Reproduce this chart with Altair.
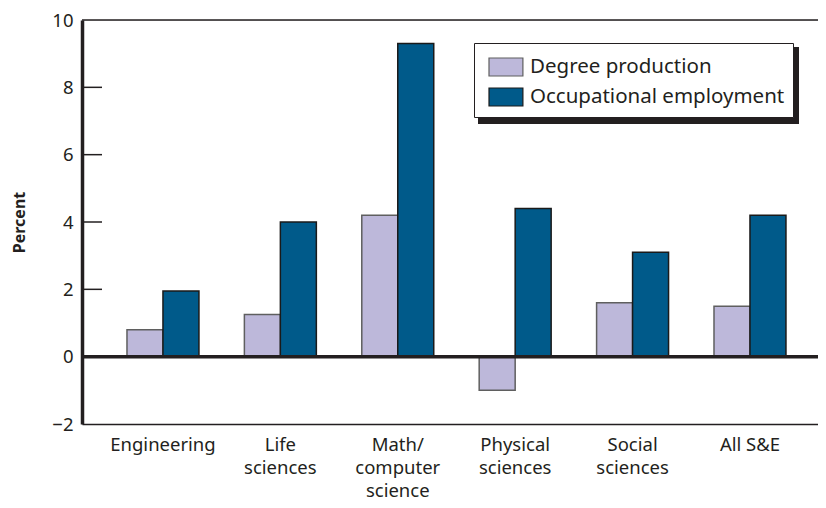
import altair as alt
import pandas as pd

categories = ["Engineering", "Life\nsciences", "Math/\ncomputer\nscience",
              "Physical\nsciences", "Social\nsciences", "All S&E"]
series = ["Degree production", "Occupational employment"]
degree_production = [0.8, 1.25, 4.2, -1.0, 1.6, 1.5]
occupational_employment = [1.95, 4.0, 9.3, 4.4, 3.1, 4.2]
inner_ticks = [2, 4, 6, 8]

rows = []
for c, d, o in zip(categories, degree_production, occupational_employment):
    rows.append({"category": c, "series": series[0], "value": d})
    rows.append({"category": c, "series": series[1], "value": o})
df = pd.DataFrame(rows)

FONT = "Noto Sans"
INK = "#231f20"
W, H = 736, 404
LX, LY = 392, 23
LW, LH = 321, 77

ydom = alt.Scale(domain=[-2, 10], nice=False, zero=False)

bars = alt.Chart(df).mark_bar(strokeWidth=1.5).encode(
    x=alt.X("category:N", sort=categories,
            scale=alt.Scale(paddingInner=0.387, paddingOuter=0.328, align=0.584),
            axis=alt.Axis(title=None, labelExpr="split(datum.label, '\\n')",
                          labelAngle=0, ticks=False, labelPadding=11,
                          labelFontSize=18.5, labelLineHeight=23,
                          domainColor=INK, domainWidth=1.5, labelColor=INK)),
    xOffset=alt.XOffset("series:N", sort=series),
    y=alt.Y("value:Q", scale=ydom,
            axis=alt.Axis(title="Percent", values=[-2, 0, 2, 4, 6, 8, 10],
                          ticks=False, grid=False, labelPadding=9,
                          labelFontSize=18.5, labelColor=INK,
                          domainColor=INK, domainWidth=3.5,
                          titleFontSize=16, titleFontWeight="bold",
                          titleColor=INK, titlePadding=24)),
    color=alt.Color("series:N", sort=series,
                    scale=alt.Scale(domain=series, range=["#bdb8da", "#005a8a"]),
                    legend=alt.Legend(title=None, orient="none",
                                      legendX=LX, legendY=LY,
                                      fillColor="white", strokeColor=INK,
                                      padding=8, labelFontSize=20.5,
                                      labelColor=INK, labelOffset=16,
                                      labelLimit=400,
                                      symbolType="M-0.6,-0.6H1.66V0.6H-0.6Z",
                                      symbolSize=900, symbolStrokeColor="#333333",
                                      symbolStrokeWidth=1.2, symbolOpacity=1,
                                      rowPadding=2)),
    stroke=alt.Stroke("series:N", sort=series,
                      scale=alt.Scale(domain=series, range=["#5f5f5f", "#1a1a1a"]),
                      legend=None),
)

tick_df = pd.DataFrame({"v": inner_ticks})
ticks = alt.Chart(tick_df).mark_rule(color=INK, strokeWidth=1.5).encode(
    y=alt.Y("v:Q", scale=ydom), x=alt.value(0), x2=alt.value(20))

zero = alt.Chart(pd.DataFrame({"v": [0]})).mark_rule(color=INK, strokeWidth=3.5).encode(
    y=alt.Y("v:Q", scale=ydom), x=alt.value(0), x2=alt.value(W))

top = alt.Chart(pd.DataFrame({"v": [10]})).mark_rule(color=INK, strokeWidth=1.5).encode(
    y=alt.Y("v:Q", scale=ydom), x=alt.value(0), x2=alt.value(W))

shadow = alt.Chart(pd.DataFrame({"v": [0]})).mark_rect(color=INK).encode(
    x=alt.value(LX + 4), x2=alt.value(LX + 4 + LW),
    y=alt.value(LY + 4), y2=alt.value(LY + 4 + LH))

chart = alt.layer(shadow, bars, ticks, zero, top).properties(
    width=W, height=H,
    padding={"left": 74, "top": 12, "right": 0, "bottom": 76},
    autosize="none",
).configure_view(stroke=None).configure(font=FONT)

chart.save("out.html", embed_options={"renderer": "svg", "actions": False})
